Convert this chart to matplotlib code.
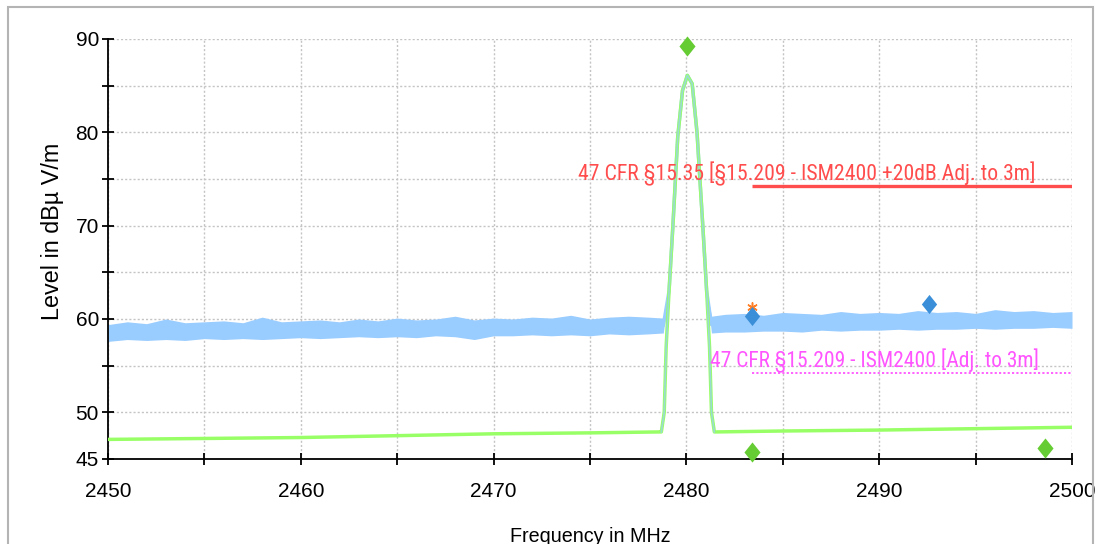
import matplotlib
matplotlib.use("Agg")
import matplotlib.pyplot as plt
from matplotlib.patches import Rectangle
from matplotlib.ticker import FixedLocator

# ---- data ----
# noise floor of the peak trace (blue): frequency grid, lower / upper envelope
blue_f_left = [2450, 2451, 2452, 2453, 2454, 2455, 2456, 2457, 2458, 2459, 2460,
               2461, 2462, 2463, 2464, 2465, 2466, 2467, 2468, 2469, 2470,
               2471, 2472, 2473, 2474, 2475, 2476, 2477, 2478, 2478.8]
blue_lo_left = [57.6, 57.8, 57.7, 57.8, 57.7, 57.9, 57.8, 57.9, 57.8, 57.9, 58.0,
                57.9, 58.0, 58.1, 58.0, 58.1, 58.0, 58.2, 58.1, 57.8, 58.2,
                58.2, 58.3, 58.2, 58.3, 58.2, 58.4, 58.3, 58.4, 58.5]
blue_hi_left = [59.4, 59.7, 59.5, 60.0, 59.6, 59.7, 59.8, 59.6, 60.2, 59.7, 59.8,
                59.9, 59.7, 60.0, 59.8, 60.1, 59.9, 60.0, 60.3, 59.9, 60.1,
                60.0, 60.2, 60.1, 60.4, 60.0, 60.2, 60.3, 60.2, 60.1]
blue_f_right = [2481.3, 2482, 2483, 2484, 2485, 2486, 2487, 2488, 2489, 2490,
                2491, 2492, 2493, 2494, 2495, 2496, 2497, 2498, 2499, 2500]
blue_lo_right = [58.5, 58.6, 58.6, 58.7, 58.7, 58.6, 58.8, 58.7, 58.8, 58.8,
                 58.9, 58.8, 58.9, 58.9, 59.0, 58.9, 59.0, 59.0, 59.1, 59.0]
blue_hi_right = [60.3, 60.5, 60.6, 60.4, 60.7, 60.6, 60.5, 60.8, 60.6, 60.7,
                 60.6, 60.9, 60.7, 60.8, 60.6, 61.0, 60.8, 60.9, 60.7, 60.8]

# average trace (green) outside the carrier
green_f_left = [2450, 2455, 2460, 2465, 2470, 2475, 2478.6]
green_v_left = [47.1, 47.2, 47.3, 47.5, 47.7, 47.8, 47.9]
green_f_right = [2481.5, 2485, 2490, 2495, 2500]
green_v_right = [47.9, 48.0, 48.1, 48.25, 48.4]

# carrier peak (both traces)
peak_f = [2478.7, 2478.85, 2478.95, 2479.1, 2479.3, 2479.55, 2479.8, 2480.05,
          2480.3, 2480.55, 2480.85, 2481.05, 2481.2, 2481.3, 2481.45]
peak_v = [47.9, 50.0, 57.0, 63.0, 70.0, 79.5, 84.5, 86.1,
          85.2, 80.0, 70.0, 63.0, 57.0, 50.0, 47.9]

# markers
green_mk_f = [2480.05, 2483.4, 2498.6]
green_mk_v = [89.3, 45.75, 46.2]
blue_mk_f = [2483.4, 2492.6]
blue_mk_v = [60.3, 61.6]
star_f = [2483.4]
star_v = [61.3]

# limit lines
red_limit_f = [2483.4, 2500]
red_limit_v = [74.2, 74.2]
red_label = "47 CFR §15.35 [§15.209 - ISM2400 +20dB Adj. to 3m]"
mag_limit_f = [2483.4, 2500]
mag_limit_v = [54.2, 54.2]
mag_label = "47 CFR §15.209 - ISM2400 [Adj. to 3m]"

x_tick_pos = [2450, 2455, 2460, 2465, 2470, 2475, 2480, 2485, 2490, 2495, 2500]
x_labels = [2450, 2460, 2470, 2480, 2490, 2500]
y_tick_pos = [45, 50, 55, 60, 65, 70, 75, 80, 85, 90]
y_labels = [45, 50, 60, 70, 80, 90]

# ---- figure ----
plt.rcParams['font.family'] = ['Liberation Sans', 'DejaVu Sans']
fig = plt.figure(figsize=(11, 5.44), dpi=100)
fig.patches.append(Rectangle((8/1100, -0.1), (1093-8)/1100, 1.1 - 7/544,
                             transform=fig.transFigure, fill=False,
                             edgecolor='#b4b4b4', linewidth=1.5))
ax = fig.add_axes([108/1100, 1-459/544, (1072-108)/1100, (459-39)/544])

BLUE = '#99ccff'
GREEN = '#99ff66'
COND = ['Liberation Sans Narrow', 'Roboto Condensed', 'DejaVu Sans']
DIAMOND = [(0, 1), (0.8, 0), (0, -1), (-0.8, 0), (0, 1)]

# blue trace: noise band + peak
pk_blue_f = [f for f, v in zip(peak_f, peak_v) if v >= 59]
pk_blue_v = [v for v in peak_v if v >= 59]
bf = blue_f_left + pk_blue_f + blue_f_right
blo = blue_lo_left + pk_blue_v + blue_lo_right
bhi = blue_hi_left + pk_blue_v + blue_hi_right
ax.fill_between(bf, blo, bhi, color=BLUE, linewidth=0, zorder=2)
ax.plot(bf, [(a + b) / 2 for a, b in zip(blo, bhi)], color=BLUE, lw=2.5, zorder=2)

# green trace
gf = green_f_left + peak_f + green_f_right
gv = green_v_left + peak_v + green_v_right
ax.plot(gf, gv, color=GREEN, lw=2.5, zorder=3, solid_joinstyle='round')
ax.plot(peak_f, peak_v, color=BLUE, lw=1.2, zorder=3.5, alpha=0.7)

# limit lines
ax.plot(red_limit_f, red_limit_v, color='#ff4d4d', lw=2.4, zorder=4,
        solid_capstyle='butt')
ax.text(2498.1, 74.85, red_label, color='#ff4d4d', ha='right', va='baseline',
        fontsize=15.7, family=COND, zorder=5)
ax.plot(mag_limit_f, mag_limit_v, color='#ff55ff', lw=1.3, ls=(0, (1.2, 1.2)),
        zorder=4)
ax.text(2481.25, 54.85, mag_label, color='#ff55ff', ha='left', va='baseline',
        fontsize=15.5, family=COND, zorder=5)

# markers
ax.scatter(green_mk_f, green_mk_v, marker=DIAMOND, s=210, color='#66cc33', zorder=6,
           clip_on=False, linewidths=0)
ax.scatter(blue_mk_f, blue_mk_v, marker=DIAMOND, s=190, color='#3a8fd8', zorder=6,
           linewidths=0)
ax.scatter(star_f, star_v, marker=(6, 2, 0), s=45, color='#ff7f27', zorder=5,
           linewidths=1.1)

# axes
ax.set_xlim(2450, 2500)
ax.set_ylim(45, 90)
ax.xaxis.set_major_locator(FixedLocator(x_tick_pos))
ax.yaxis.set_major_locator(FixedLocator(y_tick_pos))
ax.set_xticklabels([str(t) if t in x_labels else '' for t in x_tick_pos])
ax.set_yticklabels([str(t) if t in y_labels else '' for t in y_tick_pos])
ax.grid(True, color='#c4c4c4', ls=(0, (1.5, 1.5)), lw=1)
ax.set_axisbelow(True)
for s in ['top', 'right']:
    ax.spines[s].set_visible(False)
for s in ['left', 'bottom']:
    ax.spines[s].set_linewidth(1.3)
ax.tick_params(direction='inout', length=9, width=1.3, labelsize=15, pad=2)
ax.tick_params(axis='x', pad=12)
ax.set_xlabel('Frequency in MHz', fontsize=14.2)
ax.xaxis.set_label_coords(0.5, -0.163)
ax.set_ylabel('Level in dBµ V/m', fontsize=16.8)
ax.yaxis.set_label_coords(-0.046, 0.543)

fig.savefig('out.png', dpi=100)
